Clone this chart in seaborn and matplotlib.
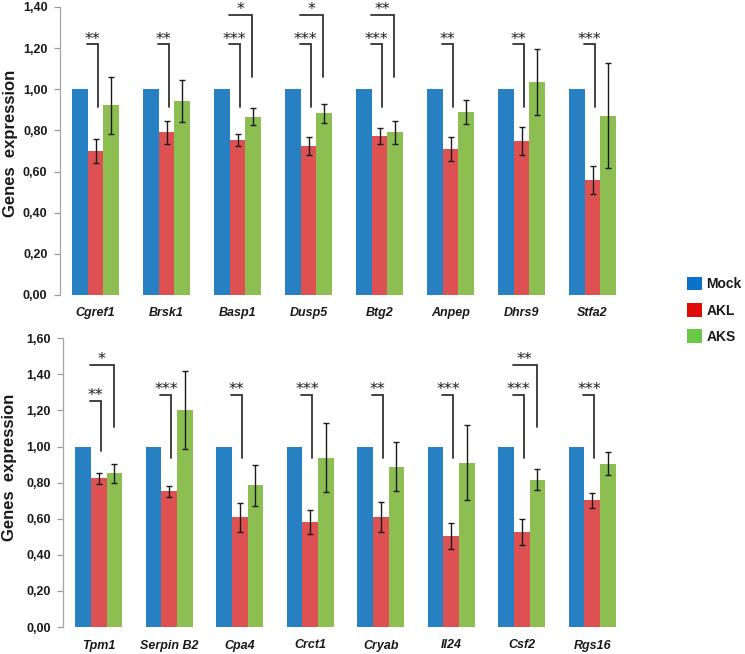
import numpy as np
import pandas as pd
import matplotlib
matplotlib.use("Agg")
import matplotlib.pyplot as plt
import seaborn as sns
from matplotlib.patches import Patch

# ---------------- data ----------------
conditions = ["Mock", "AKL", "AKS"]

top_genes = ["Cgref1", "Brsk1", "Basp1", "Dusp5", "Btg2", "Anpep", "Dhrs9", "Stfa2"]
top_mock = [1.00, 1.00, 1.00, 1.00, 1.00, 1.00, 1.00, 1.00]
top_akl = [0.70, 0.79, 0.754, 0.725, 0.773, 0.71, 0.749, 0.557]
top_akl_err = [0.057, 0.055, 0.028, 0.043, 0.038, 0.059, 0.067, 0.068]
top_aks = [0.922, 0.943, 0.866, 0.883, 0.79, 0.89, 1.036, 0.871]
top_aks_err = [0.14, 0.103, 0.042, 0.045, 0.056, 0.06, 0.161, 0.255]
top_sig_akl = ["**", "**", "***", "***", "***", "**", "**", "***"]
top_sig_aks = ["", "", "*", "*", "**", "", "", ""]

bottom_genes = ["Tpm1", "Serpin B2", "Cpa4", "Crct1", "Cryab", "Il24", "Csf2", "Rgs16"]
bottom_mock = [1.00, 1.00, 1.00, 1.00, 1.00, 1.00, 1.00, 1.00]
bottom_akl = [0.823, 0.751, 0.609, 0.583, 0.611, 0.506, 0.526, 0.703]
bottom_akl_err = [0.031, 0.028, 0.08, 0.067, 0.082, 0.071, 0.071, 0.041]
bottom_aks = [0.852, 1.203, 0.786, 0.939, 0.889, 0.911, 0.817, 0.906]
bottom_aks_err = [0.053, 0.214, 0.114, 0.19, 0.137, 0.208, 0.059, 0.065]
bottom_sig_akl = ["**", "***", "**", "***", "**", "***", "***", "***"]
bottom_sig_aks = ["*", "", "", "", "", "", "**", ""]

top_yticks = [0.0, 0.2, 0.4, 0.6, 0.8, 1.0, 1.2, 1.4]
bottom_yticks = [0.0, 0.2, 0.4, 0.6, 0.8, 1.0, 1.2, 1.4, 1.6]

# ---------------- style ----------------
sns.set_theme(style="white")
plt.rcParams["font.family"] = ["Liberation Sans", "DejaVu Sans"]

bar_colors = {"Mock": "#2780C1", "AKL": "#DD5152", "AKS": "#8DBE51"}
legend_colors = {"Mock": "#0A72C8", "AKL": "#E00B0B", "AKS": "#6CC947"}
ink = "#1a1a1a"
bracket_color = "#333333"

fig = plt.figure(figsize=(7.45, 6.54), dpi=100)
W, H = 745.0, 654.0
ax_top = fig.add_axes([60 / W, 1 - 295 / H, 568 / W, 288 / H])
ax_bot = fig.add_axes([63.5 / W, 1 - 627 / H, 564 / W, 288.7 / H])


def draw_panel(ax, genes, mock, akl, akl_err, aks, aks_err, sig_akl, sig_aks,
               yticks, geom, ylabel_y, ylabel_x):
    df = pd.DataFrame({
        "gene": genes * 3,
        "condition": [c for c in conditions for _ in genes],
        "value": list(mock) + list(akl) + list(aks),
    })
    sns.barplot(data=df, x="gene", y="value", hue="condition",
                order=genes, hue_order=conditions, palette=bar_colors,
                width=0.66, gap=0, errorbar=None, saturation=1,
                edgecolor="none", linewidth=0, legend=False, ax=ax)

    # error bars on AKL and AKS bars
    for cont, vals, errs in ((ax.containers[1], akl, akl_err),
                             (ax.containers[2], aks, aks_err)):
        for bar, v, e in zip(cont, vals, errs):
            xc = bar.get_x() + bar.get_width() / 2
            ax.errorbar(xc, v, yerr=e, fmt="none", ecolor=ink,
                        elinewidth=1.0, capsize=2.2, capthick=1.0, zorder=4)

    star_kw = dict(textcoords="offset points", ha="center", va="baseline",
                   fontsize=11.5, family="DejaVu Sans", color=ink,
                   annotation_clip=False)
    # significance brackets
    for i, (bar, s1, s2) in enumerate(zip(ax.containers[1], sig_akl, sig_aks)):
        g = bar.get_x() + bar.get_width() / 2  # group centre
        low_y, low_bot = geom["low"].get(genes[i], geom["low"]["_"])
        if s1:
            x0, x1 = g - 0.125, g + 0.03
            ax.plot([x0, x1, x1], [low_y, low_y, low_bot], color=bracket_color,
                    lw=1.3, solid_joinstyle="miter", zorder=5)
            ax.annotate(s1, ((x0 + x1) / 2, low_y), xytext=(0, 0.5), **star_kw)
        if s2:
            up_y, up_bot = geom["up"]
            x0, x1 = g - 0.125, g + 0.21
            ax.plot([x0, x1, x1], [up_y, up_y, up_bot], color=bracket_color,
                    lw=1.3, solid_joinstyle="miter", zorder=5)
            ax.annotate(s2, ((x0 + x1) / 2, up_y), xytext=(0, 0.5), **star_kw)

    ax.set_xlim(-0.5, len(genes) - 0.5)
    ax.set_ylim(yticks[0], yticks[-1])
    ax.set_yticks(yticks)
    ax.set_yticklabels([f"{t:.2f}".replace(".", ",") for t in yticks],
                       fontsize=9, fontweight="bold", color=ink)
    ax.set_xticks(range(len(genes)))
    ax.set_xticklabels(genes, fontsize=9, fontweight="bold",
                       fontstyle="italic", color=ink)
    ax.tick_params(axis="y", which="major", direction="out", length=4,
                   width=0.9, color="#9a9a9a", pad=5, left=True)
    ax.tick_params(axis="x", length=0, pad=9)
    for side in ("top", "right", "bottom"):
        ax.spines[side].set_visible(False)
    ax.spines["left"].set_color("#a6a6a6")
    ax.spines["left"].set_linewidth(0.9)
    ax.set_xlabel("")
    ax.set_ylabel("Genes  expression", fontsize=12, fontweight="bold",
                  color=ink, va="center")
    ax.yaxis.set_label_coords(ylabel_x, ylabel_y)


draw_panel(ax_top, top_genes, top_mock, top_akl, top_akl_err, top_aks,
           top_aks_err, top_sig_akl, top_sig_aks, top_yticks,
           {"low": {"_": (1.218, 0.913)}, "up": (1.362, 1.06)},
           ylabel_y=0.528, ylabel_x=-49 / 568)
draw_panel(ax_bot, bottom_genes, bottom_mock, bottom_akl, bottom_akl_err,
           bottom_aks, bottom_aks_err, bottom_sig_akl, bottom_sig_aks,
           bottom_yticks,
           {"low": {"_": (1.286, 0.937), "Tpm1": (1.255, 0.976)},
            "up": (1.454, 1.107)},
           ylabel_y=0.552, ylabel_x=-54 / 564)

handles = [Patch(facecolor=legend_colors[c], edgecolor="none", label=c)
           for c in conditions]
leg = fig.legend(handles=handles, loc="upper left",
                 bbox_to_anchor=(687 / W, 1 - 277 / H), frameon=False,
                 prop={"weight": "bold", "size": 10}, handlelength=1.1,
                 handleheight=1.1, handletextpad=0.3, labelspacing=0.85,
                 borderpad=0, borderaxespad=0)
for t in leg.get_texts():
    t.set_color(ink)

fig.savefig("out.png", dpi=100)
